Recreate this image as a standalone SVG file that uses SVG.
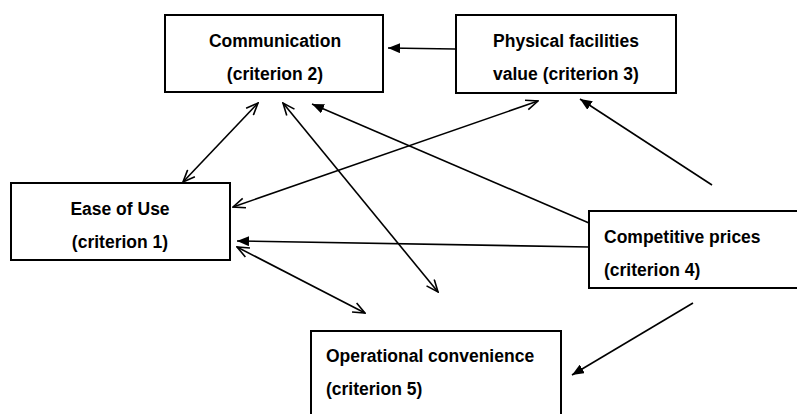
<svg xmlns="http://www.w3.org/2000/svg" width="797" height="414" viewBox="0 0 797 414">
<defs>
<style>
.box{fill:#fff;stroke:#000;stroke-width:2}
.t{font-family:"Liberation Sans",Arial,sans-serif;font-weight:bold;font-size:17.5px;fill:#000}
.c{text-anchor:middle}
.ln{stroke:#000;stroke-width:1.6;fill:none}
.open{marker-start:url(#op);marker-end:url(#op)}
.fill{marker-end:url(#fa)}
</style>
<marker id="op" viewBox="0 0 14 12" refX="13" refY="6" markerWidth="14" markerHeight="12" markerUnits="userSpaceOnUse" orient="auto-start-reverse">
<path d="M1,1 L13,6 L1,11" fill="none" stroke="#000" stroke-width="1.6"/>
</marker>
<marker id="fa" viewBox="0 0 12 10" refX="12" refY="5" markerWidth="12" markerHeight="10" markerUnits="userSpaceOnUse" orient="auto">
<path d="M0,0 L12,5 L0,10 Z" fill="#000"/>
</marker>
</defs>
<g id="connectors">
<line class="ln fill" x1="455" y1="49" x2="388" y2="48"/>
<line class="ln open" x1="183" y1="182" x2="258" y2="103"/>
<line class="ln open" x1="283" y1="103" x2="438" y2="292"/>
<line class="ln fill" x1="589" y1="223" x2="312" y2="104"/>
<line class="ln open" x1="233" y1="207" x2="538" y2="101"/>
<line class="ln fill" x1="589" y1="247" x2="237" y2="241"/>
<line class="ln open" x1="237" y1="247" x2="365" y2="313"/>
<line class="ln fill" x1="712" y1="185" x2="580" y2="99"/>
<line class="ln fill" x1="693" y1="303" x2="572" y2="375"/>
</g>
<g id="n2">
<rect class="box" x="165" y="15" width="218" height="77"/>
<text class="t c" x="275" y="47">Communication</text>
<text class="t c" x="275" y="80">(criterion 2)</text>
</g>
<g id="n3">
<rect class="box" x="456" y="15" width="220" height="78"/>
<text class="t c" x="566" y="47">Physical facilities</text>
<text class="t c" x="566" y="80">value (criterion 3)</text>
</g>
<g id="n1">
<rect class="box" x="11" y="183" width="219" height="77"/>
<text class="t c" x="120" y="215">Ease of Use</text>
<text class="t c" x="120" y="248">(criterion 1)</text>
</g>
<g id="n4">
<rect class="box" x="589" y="211" width="220" height="77"/>
<text class="t" x="604" y="243">Competitive prices</text>
<text class="t" x="604" y="276">(criterion 4)</text>
</g>
<g id="n5">
<rect class="box" x="311" y="331" width="250" height="90"/>
<text class="t" x="326" y="362">Operational convenience</text>
<text class="t" x="326" y="395">(criterion 5)</text>
</g>
</svg>
